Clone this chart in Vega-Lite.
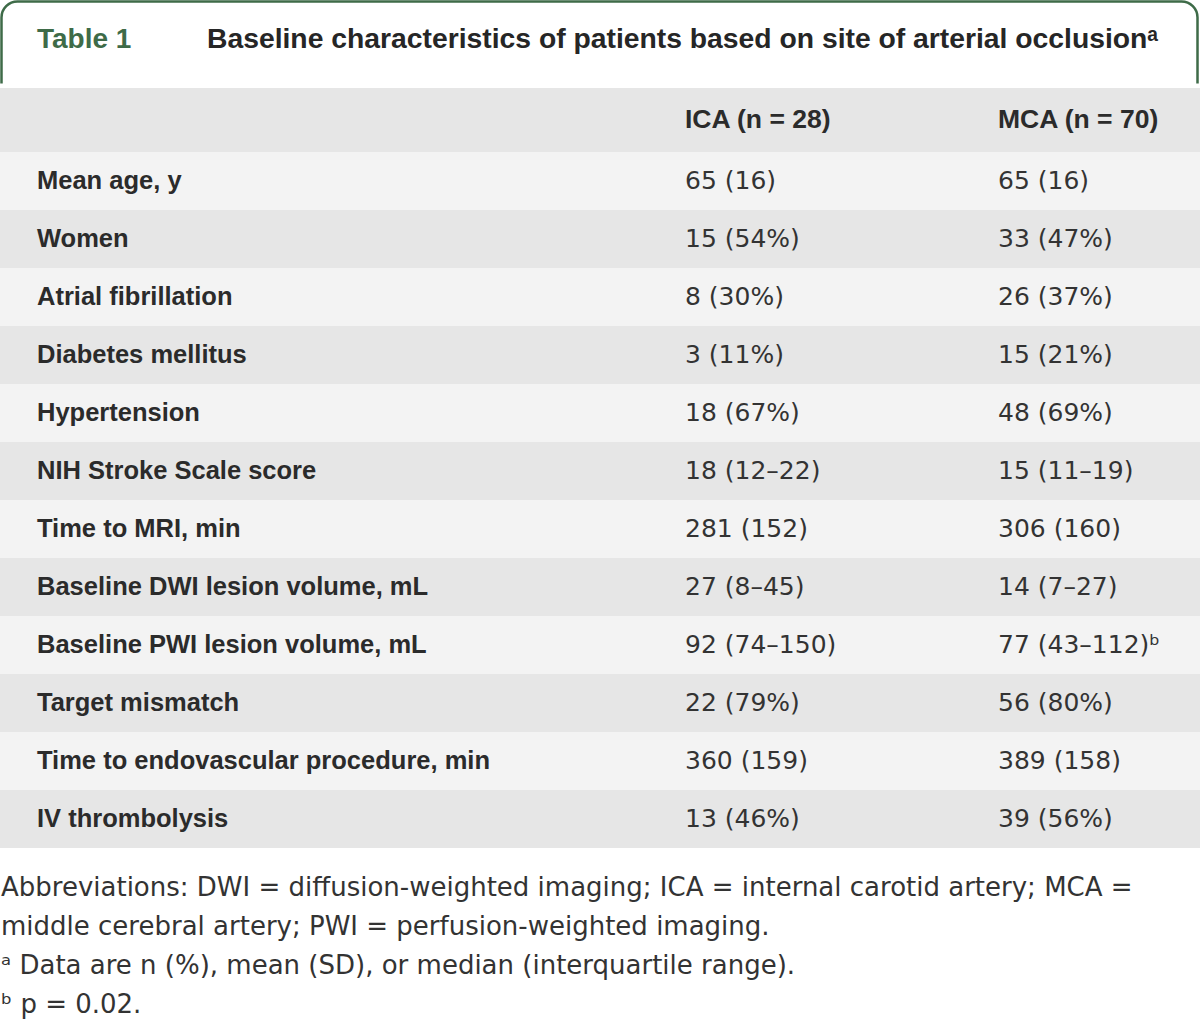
{
  "$schema": "https://vega.github.io/schema/vega-lite/v6.json",
  "width": 1200,
  "height": 1021,
  "autosize": "none",
  "padding": 0,
  "background": "white",
  "config": {"view": {"stroke": null}},
  "datasets": {
    "caption": [{"label": "Table 1", "title": "Baseline characteristics of patients based on site of arterial occlusionᵃ"}],
    "table": [
      {"Characteristic": "Mean age, y", "ICA (n = 28)": "65 (16)", "MCA (n = 70)": "65 (16)"},
      {"Characteristic": "Women", "ICA (n = 28)": "15 (54%)", "MCA (n = 70)": "33 (47%)"},
      {"Characteristic": "Atrial fibrillation", "ICA (n = 28)": "8 (30%)", "MCA (n = 70)": "26 (37%)"},
      {"Characteristic": "Diabetes mellitus", "ICA (n = 28)": "3 (11%)", "MCA (n = 70)": "15 (21%)"},
      {"Characteristic": "Hypertension", "ICA (n = 28)": "18 (67%)", "MCA (n = 70)": "48 (69%)"},
      {"Characteristic": "NIH Stroke Scale score", "ICA (n = 28)": "18 (12–22)", "MCA (n = 70)": "15 (11–19)"},
      {"Characteristic": "Time to MRI, min", "ICA (n = 28)": "281 (152)", "MCA (n = 70)": "306 (160)"},
      {"Characteristic": "Baseline DWI lesion volume, mL", "ICA (n = 28)": "27 (8–45)", "MCA (n = 70)": "14 (7–27)"},
      {"Characteristic": "Baseline PWI lesion volume, mL", "ICA (n = 28)": "92 (74–150)", "MCA (n = 70)": "77 (43–112)ᵇ"},
      {"Characteristic": "Target mismatch", "ICA (n = 28)": "22 (79%)", "MCA (n = 70)": "56 (80%)"},
      {"Characteristic": "Time to endovascular procedure, min", "ICA (n = 28)": "360 (159)", "MCA (n = 70)": "389 (158)"},
      {"Characteristic": "IV thrombolysis", "ICA (n = 28)": "13 (46%)", "MCA (n = 70)": "39 (56%)"}
    ],
    "notes": [
      {"note": "Abbreviations: DWI = diffusion-weighted imaging; ICA = internal carotid artery; MCA ="},
      {"note": "middle cerebral artery; PWI = perfusion-weighted imaging."},
      {"note": "ᵃ Data are n (%), mean (SD), or median (interquartile range)."},
      {"note": "ᵇ p = 0.02."}
    ]
  },
  "layer": [
    {
      "data": {"name": "caption"},
      "mark": {"type": "rect", "fill": "white", "stroke": "#3e6b48", "strokeWidth": 2.5, "cornerRadiusTopLeft": 16, "cornerRadiusTopRight": 16},
      "encoding": {
        "x": {"datum": "frame", "type": "nominal", "scale": {"type": "band", "domain": ["frame"], "range": [1.5, 1197.5], "paddingInner": 0, "paddingOuter": 0}, "axis": null},
        "y": {"datum": "frame", "type": "nominal", "scale": {"type": "band", "domain": ["frame"], "range": [1.5, 130], "paddingInner": 0, "paddingOuter": 0}, "axis": null}
      }
    },
    {
      "data": {"name": "caption"},
      "mark": {"type": "rect", "fill": "white"},
      "encoding": {
        "y": {"datum": "gap", "type": "nominal", "scale": {"type": "band", "domain": ["gap"], "range": [83.5, 88], "paddingInner": 0, "paddingOuter": 0}, "axis": null}
      }
    },
    {
      "data": {"name": "caption"},
      "mark": {"type": "rect", "fill": "#e6e6e6"},
      "encoding": {
        "y": {"datum": "header", "type": "nominal", "scale": {"type": "band", "domain": ["header"], "range": [88, 152], "paddingInner": 0, "paddingOuter": 0}, "axis": null}
      }
    },
    {
      "data": {"name": "table"},
      "mark": {"type": "rect"},
      "encoding": {
        "y": {"field": "Characteristic", "type": "nominal", "sort": null, "scale": {"type": "band", "range": [152, 848], "paddingInner": 0, "paddingOuter": 0}, "axis": null},
        "color": {"field": "Characteristic", "type": "nominal", "sort": null, "legend": null,
          "scale": {"range": ["#f3f3f3", "#e6e6e6", "#f3f3f3", "#e6e6e6", "#f3f3f3", "#e6e6e6", "#f3f3f3", "#e6e6e6", "#f3f3f3", "#e6e6e6", "#f3f3f3", "#e6e6e6"]}}
      }
    },
    {
      "data": {"name": "caption"},
      "mark": {"type": "text", "align": "left", "baseline": "middle", "font": "Liberation Sans", "fontWeight": "bold", "fontSize": 28, "fill": "#3e6b48"},
      "encoding": {
        "text": {"field": "label"},
        "x": {"datum": "label", "type": "nominal", "scale": {"type": "point", "domain": ["label"], "range": [37, 37], "padding": 0}, "axis": null},
        "y": {"datum": "caption", "type": "nominal", "scale": {"type": "point", "domain": ["caption"], "range": [40, 40], "padding": 0}, "axis": null}
      }
    },
    {
      "data": {"name": "caption"},
      "mark": {"type": "text", "align": "left", "baseline": "middle", "font": "Liberation Sans", "fontWeight": "bold", "fontSize": 28.3, "fill": "#262626"},
      "encoding": {
        "text": {"field": "title"},
        "x": {"datum": "title", "type": "nominal", "scale": {"type": "point", "domain": ["title"], "range": [207, 207], "padding": 0}, "axis": null},
        "y": {"datum": "caption", "type": "nominal", "scale": {"type": "point", "domain": ["caption"], "range": [40, 40], "padding": 0}, "axis": null}
      }
    },
    {
      "data": {"name": "table"},
      "transform": [
        {"fold": ["ICA (n = 28)", "MCA (n = 70)"], "as": ["group", "value"]},
        {"aggregate": [{"op": "count", "as": "n"}], "groupby": ["group"]}
      ],
      "mark": {"type": "text", "align": "left", "baseline": "middle", "font": "Liberation Sans", "fontWeight": "bold", "fontSize": 26.5, "fill": "#2b2b2b"},
      "encoding": {
        "text": {"field": "group"},
        "x": {"field": "group", "type": "nominal", "sort": null, "scale": {"type": "point", "domain": ["ICA (n = 28)", "MCA (n = 70)"], "range": [685, 998], "padding": 0}, "axis": null},
        "y": {"datum": "header", "type": "nominal", "scale": {"type": "band", "domain": ["header"], "range": [88, 152], "paddingInner": 0, "paddingOuter": 0}, "axis": null}
      }
    },
    {
      "data": {"name": "table"},
      "mark": {"type": "text", "align": "left", "baseline": "middle", "font": "Liberation Sans", "fontWeight": "bold", "fontSize": 25.5, "fill": "#2b2b2b"},
      "encoding": {
        "text": {"field": "Characteristic"},
        "x": {"datum": "Characteristic", "type": "nominal", "scale": {"type": "point", "domain": ["Characteristic"], "range": [37, 37], "padding": 0}, "axis": null},
        "y": {"field": "Characteristic", "type": "nominal", "sort": null, "scale": {"type": "band", "range": [152, 848], "paddingInner": 0, "paddingOuter": 0}, "axis": null}
      }
    },
    {
      "data": {"name": "table"},
      "transform": [{"fold": ["ICA (n = 28)", "MCA (n = 70)"], "as": ["group", "value"]}],
      "mark": {"type": "text", "align": "left", "baseline": "middle", "font": "DejaVu Sans", "fontSize": 25, "fill": "#333333"},
      "encoding": {
        "text": {"field": "value"},
        "x": {"field": "group", "type": "nominal", "sort": null, "scale": {"type": "point", "domain": ["ICA (n = 28)", "MCA (n = 70)"], "range": [685, 998], "padding": 0}, "axis": null},
        "y": {"field": "Characteristic", "type": "nominal", "sort": null, "scale": {"type": "band", "range": [152, 848], "paddingInner": 0, "paddingOuter": 0}, "axis": null}
      }
    },
    {
      "data": {"name": "notes"},
      "mark": {"type": "text", "align": "left", "baseline": "middle", "font": "DejaVu Sans", "fontSize": 26, "fill": "#333333"},
      "encoding": {
        "text": {"field": "note"},
        "x": {"datum": "note", "type": "nominal", "scale": {"type": "point", "domain": ["note"], "range": [1, 1], "padding": 0}, "axis": null},
        "y": {"field": "note", "type": "nominal", "sort": null, "scale": {"type": "band", "range": [868, 1025], "paddingInner": 0, "paddingOuter": 0}, "axis": null}
      }
    }
  ],
  "resolve": {"scale": {"x": "independent", "y": "independent", "color": "independent"}}
}
